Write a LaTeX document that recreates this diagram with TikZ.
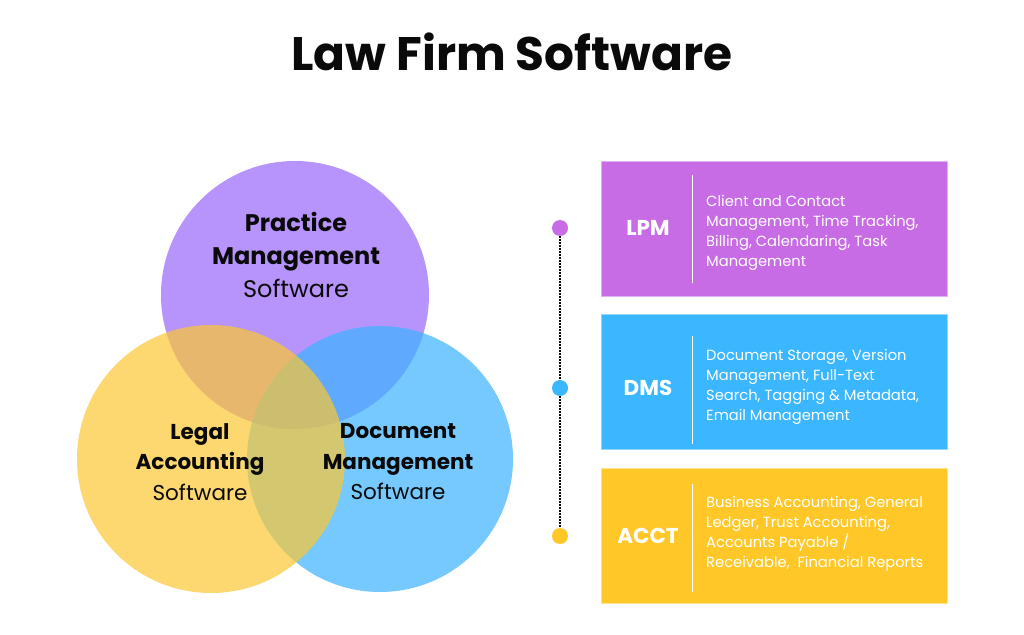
\documentclass[tikz,border=0pt]{standalone}
\usepackage{fontspec}
\setmainfont{Poppins}
\usetikzlibrary{positioning}
\definecolor{pmcol}{RGB}{152,102,251}
\definecolor{dmcol}{RGB}{58,178,255}
\definecolor{lacol}{RGB}{252,199,51}
\definecolor{lpmcol}{RGB}{200,108,230}
\definecolor{dmsbox}{RGB}{58,183,255}
\definecolor{acctbox}{RGB}{255,200,40}
\definecolor{ink}{RGB}{10,10,10}
\tikzset{
  venntext/.style={align=center, text=ink, font=\fontsize{24}{33}\selectfont},
  smallvenn/.style={venntext, font=\fontsize{21.5}{30.5}\selectfont},
  infobox/.style={minimum width=346pt, minimum height=135pt, inner sep=0pt},
  tag/.style={text=white, font=\fontsize{21.5}{24}\selectfont\bfseries},
  desc/.style={anchor=west, align=left, text=white, inner sep=0pt,
    font=\fontsize{14.7}{20}\selectfont},
  dot/.style={circle, minimum size=16pt, inner sep=0pt}
}
\begin{document}
\begin{tikzpicture}[x=1pt,y=-1pt]
  \useasboundingbox (0,0) rectangle (1024,634);
  \node[text=ink, font=\fontsize{47}{56}\selectfont\bfseries] (title) at (512,52) {Law Firm Software};
  % venn circles
  \fill[pmcol, fill opacity=.7] (295,295) circle[radius=134pt];
  \fill[dmcol, fill opacity=.7] (380,459) circle[radius=133pt];
  \fill[lacol, fill opacity=.7] (211,459) circle[radius=134pt];
  \node[venntext] (pmtext) at (296,255) {\textbf{Practice}\\\textbf{Management}\\Software};
  \node[smallvenn] (latext) at (200,462) {\textbf{Legal}\\\textbf{Accounting}\\Software};
  \node[smallvenn] (dmtext) at (398,462) {\textbf{Document}\\\textbf{Management}\\Software};
  % timeline
  \node[dot, fill=lpmcol] (d1) at (560,228) {};
  \node[dot, fill=dmsbox] (d2) at (560,388) {};
  \node[dot, fill=acctbox] (d3) at (560,536) {};
  \draw[ink, line width=1.8pt, dash pattern=on 1.5pt off 1.5pt] (d1) -- (d2) -- (d3);
  % boxes
  \node[infobox, fill=lpmcol, draw=lpmcol!55!white] (lpmbox) at (774,228.5) {};
  \node[infobox, fill=dmsbox, draw=dmsbox!55!white] (dmsbox) at (774,382) {};
  \node[infobox, fill=acctbox, draw=acctbox!55!white] (acctbox) at (774,535.5) {};
  \draw[white, line width=1pt] (692,175) -- (692,283);
  \draw[white, line width=1pt] (692,336) -- (692,444);
  \draw[white, line width=1pt] (692,484) -- (692,592);
  \node[tag] (lpm) at (648,228) {LPM};
  \node[tag] (dms) at (648,388) {DMS};
  \node[tag] (acct) at (648,536) {ACCT};
  \node[desc] (lpmdesc) at (706,233) {Client and Contact\\Management, Time Tracking,\\Billing, Calendaring, Task\\Management};
  \node[desc] (dmsdesc) at (706,387) {Document Storage, Version\\Management, Full-Text\\Search, Tagging \& Metadata,\\Email Management};
  \node[desc] (acctdesc) at (706,534) {Business Accounting, General\\Ledger, Trust Accounting,\\Accounts Payable /\\Receivable,~ Financial Reports};
\end{tikzpicture}
\end{document}
